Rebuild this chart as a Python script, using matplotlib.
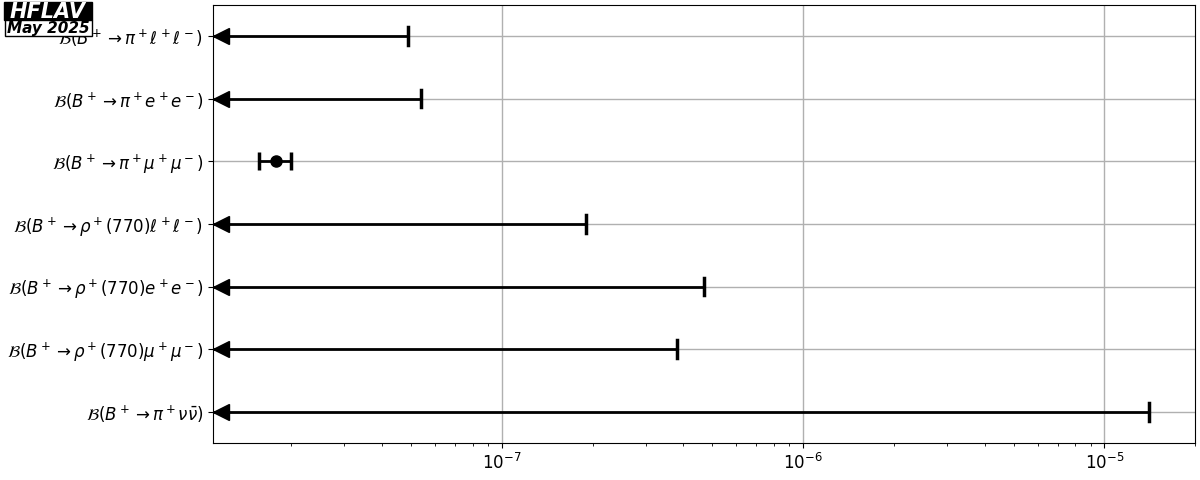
import matplotlib
matplotlib.use("Agg")
import matplotlib.pyplot as plt
from matplotlib.patches import Rectangle

# rows listed bottom to top
labels = [
    r"$\mathcal{B}(B^+ \to \pi^+ \nu\bar{\nu})$",
    r"$\mathcal{B}(B^+ \to \rho^+(770) \mu^+ \mu^-)$",
    r"$\mathcal{B}(B^+ \to \rho^+(770) e^+ e^-)$",
    r"$\mathcal{B}(B^+ \to \rho^+(770) \ell^+ \ell^-)$",
    r"$\mathcal{B}(B^+ \to \pi^+ \mu^+ \mu^-)$",
    r"$\mathcal{B}(B^+ \to \pi^+ e^+ e^-)$",
    r"$\mathcal{B}(B^+ \to \pi^+ \ell^+ \ell^-)$",
]
upper_limits = [1.4e-5, 3.8e-7, 4.7e-7, 1.9e-7, None, 5.4e-8, 4.9e-8]
meas_value = [None, None, None, None, 1.78e-8, None, None]
meas_err = [None, None, None, None, 0.22e-8, None, None]

xmin, xmax = 1.1e-8, 2.0e-5

fig, ax = plt.subplots(figsize=(12, 4.8), dpi=100)
fig.subplots_adjust(left=0.1775, right=0.996, bottom=0.077, top=0.99)

for i in range(len(labels)):
    if upper_limits[i] is not None:
        ul = upper_limits[i]
        ax.plot([xmin, ul], [i, i], color="black", lw=2, zorder=3)
        ax.plot([ul, ul], [i - 0.14, i + 0.14], color="black", lw=2.5, zorder=3)
        ax.plot([xmin * 1.06], [i], marker="<", color="black", markersize=12,
                clip_on=False, zorder=4)
    else:
        ax.errorbar([meas_value[i]], [i], xerr=[meas_err[i]], fmt="o",
                    color="black", markersize=8, lw=2, capsize=6.5,
                    capthick=2.5, zorder=3)

ax.set_xscale("log")
ax.set_xlim(xmin, xmax)
ax.set_ylim(-0.5, 6.5)
ax.set_yticks(range(len(labels)))
ax.set_yticklabels(labels, fontsize=12)
ax.tick_params(axis="x", labelsize=12)
ax.grid(True, which="major", color="#b0b0b0", lw=1)
ax.set_axisbelow(True)

# HFLAV logo
W, H = 1200, 480
fig.patches.append(Rectangle((4 / W, 1 - 20 / H), 88 / W, 18 / H,
                             transform=fig.transFigure, facecolor="black",
                             edgecolor="black", zorder=5))
fig.patches.append(Rectangle((5 / W, 1 - 36 / H), 87 / W, 16 / H,
                             transform=fig.transFigure, facecolor="white",
                             edgecolor="black", lw=1, zorder=5))
fig.text(48 / W, 1 - 11.5 / H, "HFLAV", color="white", fontsize=15,
         fontweight="bold", fontstyle="italic", ha="center", va="center", zorder=6)
fig.text(48 / W, 1 - 28.5 / H, "May 2025", color="black", fontsize=11,
         fontweight="bold", fontstyle="italic", ha="center", va="center", zorder=6)

plt.savefig("out.png", dpi=100)
plt.close()
